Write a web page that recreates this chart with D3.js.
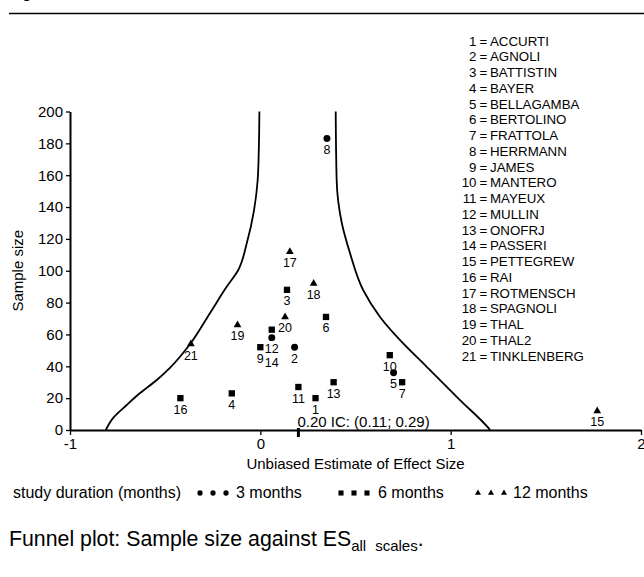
<!DOCTYPE html>
<html><head><meta charset="utf-8">
<script src="https://cdn.jsdelivr.net/npm/d3@7"></script>
<style>
body{margin:0;background:#fff}
text{font-family:"Liberation Sans",Arial,Helvetica,sans-serif;fill:#000}
</style>
</head><body>
<svg id="chart" width="644" height="577"></svg>
<script>
// ---- data ----
const studyIds   = [1,2,3,4,5,6,7,8,9,10,11,12,13,14,15,16,17,18,19,20,21];
const studyNames = ["ACCURTI","AGNOLI","BATTISTIN","BAYER","BELLAGAMBA","BERTOLINO","FRATTOLA","HERRMANN","JAMES","MANTERO","MAYEUX","MULLIN","ONOFRJ","PASSERI","PETTEGREW","RAI","ROTMENSCH","SPAGNOLI","THAL","THAL2","TINKLENBERG"];
const effectSize = [0.29,0.18,0.14,-0.15,0.70,0.345,0.745,0.35,0.00,0.68,0.20,0.06,0.385,0.06,1.77,-0.42,0.155,0.28,-0.12,0.13,-0.365];
const sampleSize = [20,52,88,23,36,71,30,183,52,47,27,58,30,63,12,20,112,92,66,71,54];
const durationMonths = [6,3,6,6,3,6,6,3,6,6,6,3,6,6,12,6,12,12,12,12,12];

const funnelLeftES  = [-0.812,-0.774,-0.702,-0.632,-0.544,-0.475,-0.369,-0.264,-0.177,-0.116,-0.071,-0.033,-0.014,-0.008,-0.005];
const funnelLeftN   = [0,7.5,15.7,23.2,31.4,39,54,73.5,89.9,100.5,117.4,138.1,157,175.8,200];
const funnelRightES = [1.207,1.198,1.049,0.874,0.717,0.629,0.540,0.471,0.428,0.401,0.396];
const funnelRightN  = [0,1.3,18.8,39.7,58.6,71,87.9,111.1,130,157,200];

const pooledES = 0.20, ciLow = 0.11, ciHigh = 0.29;
const xTicks = [-1,0,1,2];
const yTicks = [0,20,40,60,80,100,120,140,160,180,200];
const durationLevels = [3,6,12];
const durationLabels = ["3 months","6 months","12 months"];

// ---- drawing ----
const svg = d3.select("#chart");
const x = d3.scaleLinear().domain([-1,2]).range([70,641]);
const y = d3.scaleLinear().domain([0,200]).range([430,111.5]);

// header fragment + rule
svg.append("text").attr("x",9).attr("y",-2).attr("font-size",16).text("Fig");
svg.append("line").attr("x1",9).attr("x2",644).attr("y1",13.5).attr("y2",13.5)
  .attr("stroke","#000").attr("stroke-width",1.5);

// funnel lines
const line = d3.line().x(d=>x(d[0])).y(d=>y(d[1])).curve(d3.curveMonotoneY);
[[funnelLeftES,funnelLeftN],[funnelRightES,funnelRightN]].forEach(([es,n])=>{
  svg.append("path").datum(es.map((v,i)=>[v,n[i]]))
    .attr("d",line).attr("fill","none").attr("stroke","#000").attr("stroke-width",1.8);
});

// axes
const xAxis = svg.append("g").attr("transform",`translate(0,${y(0)})`)
  .call(d3.axisBottom(x).tickValues(xTicks).tickSize(5).tickSizeOuter(0).tickPadding(3).tickFormat(d=>String(d)));
const yAxis = svg.append("g").attr("transform",`translate(${x(-1)},0)`)
  .call(d3.axisLeft(y).tickValues(yTicks).tickSize(4).tickSizeOuter(0).tickPadding(3));
[xAxis,yAxis].forEach(g=>{
  g.select(".domain").attr("stroke","#000").attr("stroke-width",2);
  g.selectAll(".tick line").attr("stroke","#000").attr("stroke-width",1.3);
  g.selectAll(".tick text").attr("font-size",15).attr("font-family","Liberation Sans, Arial, sans-serif").attr("fill","#000");
});

// pooled estimate tick + text
svg.append("line").attr("x1",x(pooledES)).attr("x2",x(pooledES)).attr("y1",y(0)-2).attr("y2",y(0)+7)
  .attr("stroke","#000").attr("stroke-width",3);
svg.append("text").attr("x",x(pooledES)-1).attr("y",426.5).attr("font-size",15)
  .text(`${pooledES.toFixed(2)} IC: (${ciLow.toFixed(2)}; ${ciHigh.toFixed(2)})`);

// axis titles
svg.append("text").attr("x",(x(-1)+x(2))/2).attr("y",469).attr("text-anchor","middle").attr("font-size",15)
  .text("Unbiased Estimate of Effect Size");
svg.append("text").attr("transform",`translate(23,${(y(0)+y(200))/2}) rotate(-90)`)
  .attr("text-anchor","middle").attr("font-size",15).text("Sample size");

// symbols
const symType = {3:d3.symbolCircle, 6:d3.symbolSquare, 12:d3.symbolTriangle};
const symSize = {3:38, 6:40, 12:26};
const labelNudge = {14:22};
studyIds.forEach((id,i)=>{
  const d = durationMonths[i];
  const px = x(effectSize[i]), py = y(sampleSize[i]);
  svg.append("path").attr("d",d3.symbol().type(symType[d]).size(symSize[d])())
    .attr("transform",`translate(${px},${py})`).attr("fill","#000");
  svg.append("text").attr("x",px).attr("y",py+15.5+(labelNudge[id]||0))
    .attr("text-anchor","middle").attr("font-size",12.5).text(id);
});

// study list
const listG = svg.append("g");
studyIds.forEach((id,i)=>{
  const yy = 45.5 + i*15.75;
  listG.append("text").attr("x",476.5).attr("y",yy).attr("text-anchor","end").attr("font-size",13.3).text(id);
  listG.append("text").attr("x",479.5).attr("y",yy).attr("font-size",13.3).text("=");
  listG.append("text").attr("x",490).attr("y",yy).attr("font-size",13.3).text(studyNames[i]);
});

// duration legend
const legY = 498;
svg.append("text").attr("x",13).attr("y",legY).attr("font-size",16).text("study duration (months)");
const legStart = [200,341,478], legText=[236,378,513];
const legSize = {3:22, 6:26, 12:16};
durationLevels.forEach((d,k)=>{
  for(let j=0;j<3;j++){
    svg.append("path").attr("d",d3.symbol().type(symType[d]).size(legSize[d])())
      .attr("transform",`translate(${legStart[k]+j*13},${legY-5})`).attr("fill","#000");
  }
  svg.append("text").attr("x",legText[k]).attr("y",legY).attr("font-size",16).text(durationLabels[k]);
});

// caption
const cap = svg.append("text").attr("x",9).attr("y",546).attr("font-size",21.3);
cap.append("tspan").text("Funnel plot: Sample size against ES");
cap.append("tspan").attr("font-size",15).attr("dy",5).text("all");
cap.append("tspan").attr("font-size",15).attr("dx",9).text("scales");
cap.append("tspan").attr("dy",-5).text(".");
</script>
</body></html>
